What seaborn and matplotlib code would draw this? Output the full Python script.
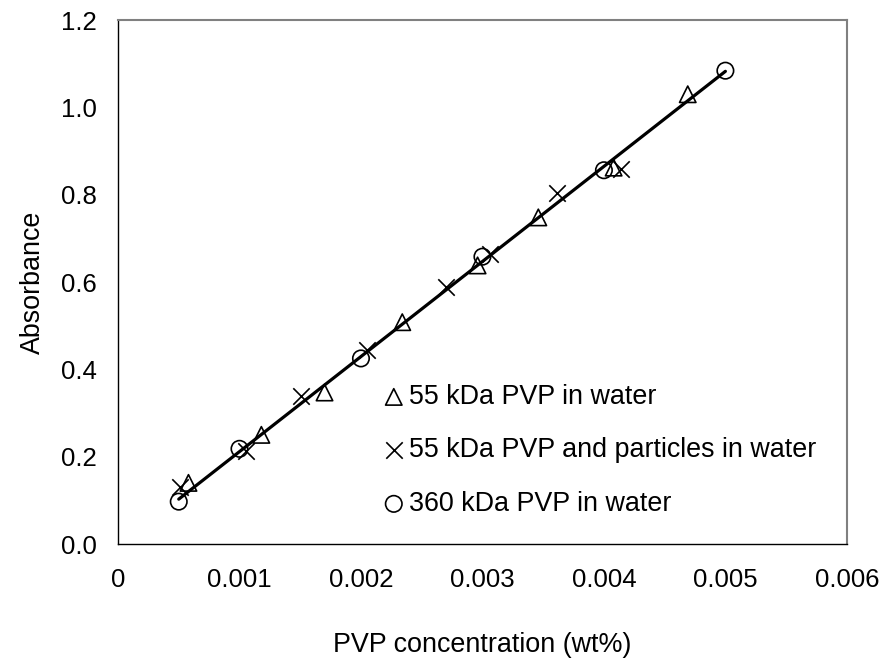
import numpy as np
import pandas as pd
import matplotlib
matplotlib.use("Agg")
import matplotlib.pyplot as plt
import seaborn as sns

# Data
tri_x = [0.00058, 0.00118, 0.00170, 0.00234, 0.00296, 0.00346, 0.00408, 0.00469]
tri_y = [0.140, 0.250, 0.347, 0.508, 0.638, 0.748, 0.862, 1.030]
crs_x = [0.00051, 0.00105, 0.00151, 0.00205, 0.00270, 0.00306, 0.00361, 0.00414]
crs_y = [0.130, 0.212, 0.338, 0.445, 0.589, 0.664, 0.803, 0.858]
cir_x = [0.0005, 0.0010, 0.0020, 0.0030, 0.0040, 0.0050]
cir_y = [0.097, 0.218, 0.425, 0.658, 0.856, 1.084]
labels = ["55 kDa PVP in water", "55 kDa PVP and particles in water", "360 kDa PVP in water"]
x_ticks = [0, 0.001, 0.002, 0.003, 0.004, 0.005, 0.006]
x_ticklabels = ["0", "0.001", "0.002", "0.003", "0.004", "0.005", "0.006"]
y_ticks = [0.0, 0.2, 0.4, 0.6, 0.8, 1.0, 1.2]

sns.set_style("white")
plt.rcParams['font.family'] = ['Liberation Sans', 'DejaVu Sans']
plt.rcParams['text.color'] = 'black'
plt.rcParams['axes.labelcolor'] = 'black'

df = pd.concat([
    pd.DataFrame({"x": tri_x, "y": tri_y, "series": labels[0]}),
    pd.DataFrame({"x": crs_x, "y": crs_y, "series": labels[1]}),
    pd.DataFrame({"x": cir_x, "y": cir_y, "series": labels[2]}),
])

FS = 18.5
FL = 19.4
fig = plt.figure(figsize=(8.84, 6.61), dpi=100)
ax = fig.add_axes([0.1335, 0.177, 0.958 - 0.1335, 0.9697 - 0.177])

# trend line (linear fit of 360 kDa series)
coef = np.polyfit(cir_x, cir_y, 1)
lx = np.array([min(cir_x), max(cir_x)])
sns.lineplot(x=lx, y=np.polyval(coef, lx), ax=ax, color="black", lw=2.3, zorder=2)

markers = {labels[0]: "^", labels[1]: "x", labels[2]: "o"}
for lab in labels:
    sub = df[df.series == lab]
    m = markers[lab]
    if m == "x":
        ax.scatter(sub.x, sub.y, marker="x", s=140, c="black", linewidths=1.2, zorder=3, label=lab)
    else:
        ax.scatter(sub.x, sub.y, marker=m, s=140, facecolors="none", edgecolors="black",
                   linewidths=1.2, zorder=3, label=lab)

ax.set_xlim(0, 0.006)
ax.set_ylim(0, 1.2)
ax.set_xticks(x_ticks)
ax.set_xticklabels(x_ticklabels)
ax.set_yticks(y_ticks)
ax.set_yticklabels([f"{v:.1f}" for v in y_ticks])
ax.tick_params(axis="both", direction="out", length=6.5, width=1, color="black",
               labelsize=FS, labelcolor="black")
ax.tick_params(axis="x", pad=11)
ax.tick_params(axis="y", pad=8.5)

for s in ["top", "right"]:
    ax.spines[s].set_color("#808080")
    ax.spines[s].set_linewidth(1.5)
for s in ["left", "bottom"]:
    ax.spines[s].set_color("black")
    ax.spines[s].set_linewidth(1.0)

ax.set_xlabel("PVP concentration (wt%)", fontsize=FL, labelpad=28.5, color="black")
ax.set_ylabel("Absorbance", fontsize=FL, labelpad=11, color="black")

h, l = ax.get_legend_handles_labels()
leg = ax.legend(h, l, loc="upper left", bbox_to_anchor=(0.346, 0.326), frameon=False,
                fontsize=FL, handletextpad=0.1, labelspacing=1.02, markerscale=1.0,
                borderaxespad=0, handlelength=0.95, labelcolor="black")

fig.savefig("out.png", dpi=100)
